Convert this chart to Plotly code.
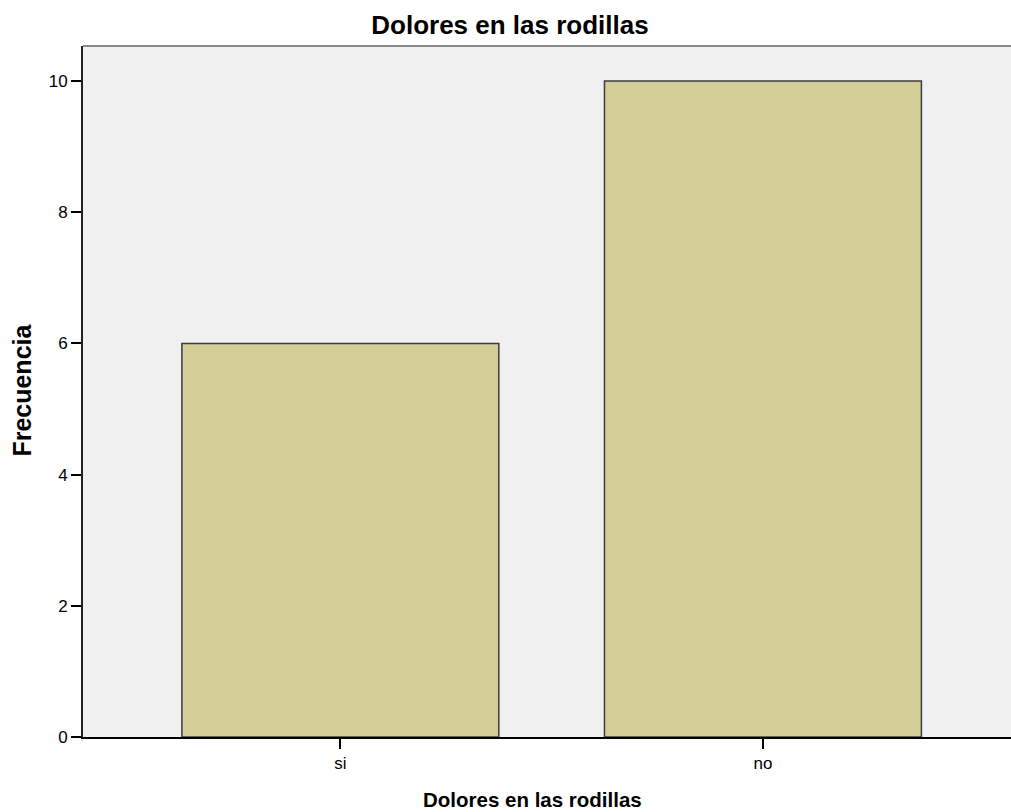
import plotly.graph_objects as go

categories = ["si", "no"]
frequencies = [6, 10]
y_ticks = [0, 2, 4, 6, 8, 10]

FONT = "Liberation Sans, Arial, sans-serif"

fig = go.Figure()
fig.add_trace(go.Bar(
    x=categories, y=frequencies, width=0.75,
    marker=dict(color="#D3CE98", line=dict(color="#3c3c3c", width=1.5)),
))

fig.update_layout(
    width=1011, height=812,
    margin=dict(l=83, r=0, t=46, b=75),
    paper_bgcolor="white", plot_bgcolor="#F0F0F0",
    font=dict(family=FONT, color="black"),
    title=dict(text="<b>Dolores en las rodillas</b>", x=510 / 1011, xanchor="center",
               xref="container", y=1 - 25 / 812, yanchor="middle",
               font=dict(size=26, family=FONT)),
    showlegend=False,
)
fig.update_xaxes(
    type="category", range=[-0.609, 1.587],
    showline=True, linecolor="black", linewidth=1.5,
    ticks="outside", ticklen=10, tickcolor="black", tickwidth=1.5,
    tickfont=dict(size=17), showgrid=False,
)
fig.update_yaxes(
    range=[0, 10.534], tickvals=y_ticks,
    showline=True, linecolor="#222222", linewidth=2,
    ticks="outside", ticklen=10, tickcolor="black", tickwidth=1.5,
    tickfont=dict(size=17), showgrid=False, zeroline=False,
)
fig.add_shape(type="line", xref="paper", yref="paper", x0=0, x1=1, y0=1, y1=1,
              line=dict(color="#8a8a8a", width=2))
fig.add_annotation(text="<b>Frecuencia</b>", xref="paper", yref="paper",
                   x=0, y=0.502, xshift=-60.5, textangle=-90, showarrow=False,
                   xanchor="center", yanchor="middle", font=dict(size=25, family=FONT))
fig.add_annotation(text="<b>Dolores en las rodillas</b>", xref="paper", yref="paper",
                   x=(532 - 83) / 928, y=0, yshift=-62, showarrow=False,
                   xanchor="center", yanchor="middle", font=dict(size=20.5, family=FONT))

fig.write_html("out.html", config={"displayModeBar": False},
               post_script="document.body.style.margin='0px';")
